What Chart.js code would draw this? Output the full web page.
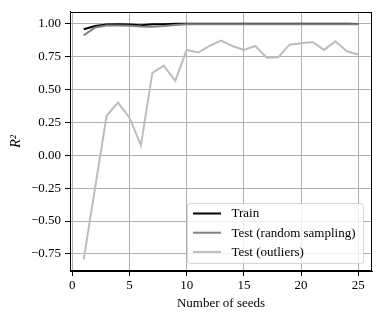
<!DOCTYPE html>
<html>
<head>
<meta charset="utf-8">
<script src="https://cdn.jsdelivr.net/npm/chart.js@4"></script>
<style>
html,body{margin:0;padding:0;background:#fff;}
canvas{display:block;}
</style>
</head>
<body>
<canvas id="c" width="379" height="317"></canvas>
<script>
const seeds = [1,2,3,4,5,6,7,8,9,10,11,12,13,14,15,16,17,18,19,20,21,22,23,24,25];
const trainR2 = [0.957,0.982,0.993,0.994,0.993,0.988,0.995,0.995,0.998,0.998,0.998,0.998,0.998,0.998,0.998,0.998,0.998,0.998,0.998,0.998,0.998,0.998,0.998,0.998,0.997];
const testRandomR2 = [0.910,0.970,0.986,0.985,0.984,0.978,0.976,0.982,0.990,0.995,0.995,0.995,0.995,0.995,0.995,0.994,0.995,0.995,0.995,0.995,0.995,0.995,0.995,0.995,0.994];
const testOutliersR2 = [-0.790,-0.245,0.300,0.400,0.285,0.075,0.625,0.680,0.565,0.800,0.780,0.830,0.870,0.830,0.800,0.830,0.740,0.745,0.840,0.850,0.860,0.800,0.865,0.790,0.765];
const seriesLabels = ["Train","Test (random sampling)","Test (outliers)"];
const xTickValues = [0,5,10,15,20,25];
const xTickLabels = ["0","5","10","15","20","25"];
const yTickValues = [-0.75,-0.5,-0.25,0,0.25,0.5,0.75,1.0];
const yTickLabels = ["\u22120.75","\u22120.50","\u22120.25","0.00","0.25","0.50","0.75","1.00"];
const xAxisTitle = "Number of seeds";
const yAxisTitle = "R\u00b2";

const FONT = "'Liberation Serif', 'Times New Roman', serif";
const colors = ["#000000","#808080","#bdbdbd"];

function pts(ys){ return seeds.map((x,i)=>({x:x,y:ys[i]})); }

const framePlugin = {
  id:'frame',
  afterDatasetsDraw(chart){
    const a = chart.chartArea, ctx = chart.ctx;
    ctx.save();
    ctx.strokeStyle = '#000';
    ctx.lineWidth = 1;
    ctx.strokeRect(Math.round(a.left)+0.5, Math.round(a.top)+0.5, Math.round(a.right-a.left)-1, Math.round(a.bottom-a.top)-1);
    ctx.restore();
  }
};

const legendPlugin = {
  id:'innerLegend',
  afterDraw(chart){
    const ctx = chart.ctx;
    const x0 = 187.5, y0 = 203.5, w = 176, h = 60, r = 3;
    ctx.save();
    ctx.globalAlpha = 0.8;
    ctx.fillStyle = '#ffffff';
    ctx.beginPath();
    ctx.roundRect(x0,y0,w,h,r);
    ctx.fill();
    ctx.globalAlpha = 1;
    ctx.strokeStyle = '#d6d6d6';
    ctx.lineWidth = 1;
    ctx.stroke();
    ctx.font = "13px " + FONT;
    ctx.textBaseline = 'middle';
    ctx.textAlign = 'left';
    chart.data.datasets.forEach((ds,i)=>{
      const yy = 213.5 + i*19.2;
      ctx.strokeStyle = ds.borderColor;
      ctx.lineWidth = ds.borderWidth;
      ctx.beginPath();
      ctx.moveTo(193, yy);
      ctx.lineTo(221, yy);
      ctx.stroke();
      ctx.fillStyle = '#000';
      ctx.fillText(ds.label, 231.5, yy+0.5);
    });
    ctx.restore();
  }
};

new Chart(document.getElementById('c'), {
  type:'line',
  data:{
    datasets:[
      {label:seriesLabels[0], data:pts(trainR2), borderColor:colors[0], backgroundColor:colors[0], borderWidth:2, pointRadius:0, tension:0, order:3},
      {label:seriesLabels[1], data:pts(testRandomR2), borderColor:colors[1], backgroundColor:colors[1], borderWidth:2, pointRadius:0, tension:0, order:2},
      {label:seriesLabels[2], data:pts(testOutliersR2), borderColor:colors[2], backgroundColor:colors[2], borderWidth:2, pointRadius:0, tension:0, order:1}
    ]
  },
  options:{
    responsive:false,
    devicePixelRatio:1,
    animation:false,
    layout:{padding:{left:0,right:7,top:9,bottom:0}},
    plugins:{legend:{display:false}, tooltip:{enabled:false}},
    scales:{
      x:{
        type:'linear',
        min:-0.2, max:26.2,
        afterBuildTicks(s){ s.ticks = xTickValues.map(v=>({value:v})); },
        afterFit(s){ s.height = 46; },
        ticks:{callback:(v,i)=>xTickLabels[i], color:'#000', font:{family:FONT,size:13}, padding:2, maxRotation:0, autoSkip:false},
        grid:{color:'#b0b0b0', lineWidth:1, tickColor:'#000', tickLength:5, tickWidth:1},
        border:{display:true, color:'#000', width:1},
        title:{display:true, text:xAxisTitle, color:'#000', font:{family:FONT,size:13}, padding:{top:0,bottom:6}}
      },
      y:{
        type:'linear',
        min:-0.8795, max:1.0895,
        afterBuildTicks(s){ s.ticks = yTickValues.map(v=>({value:v})); },
        afterFit(s){ s.width = 70; },
        ticks:{callback:(v,i)=>yTickLabels[i], color:'#000', font:{family:FONT,size:13}, padding:4, autoSkip:false},
        grid:{color:'#b0b0b0', lineWidth:1, tickColor:'#000', tickLength:5, tickWidth:1},
        border:{display:true, color:'#000', width:1},
        title:{display:true, text:yAxisTitle, color:'#000', font:{family:FONT,size:14,style:'italic'}, padding:{top:8,bottom:0}}
      }
    }
  },
  plugins:[framePlugin, legendPlugin]
});
</script>
</body>
</html>
